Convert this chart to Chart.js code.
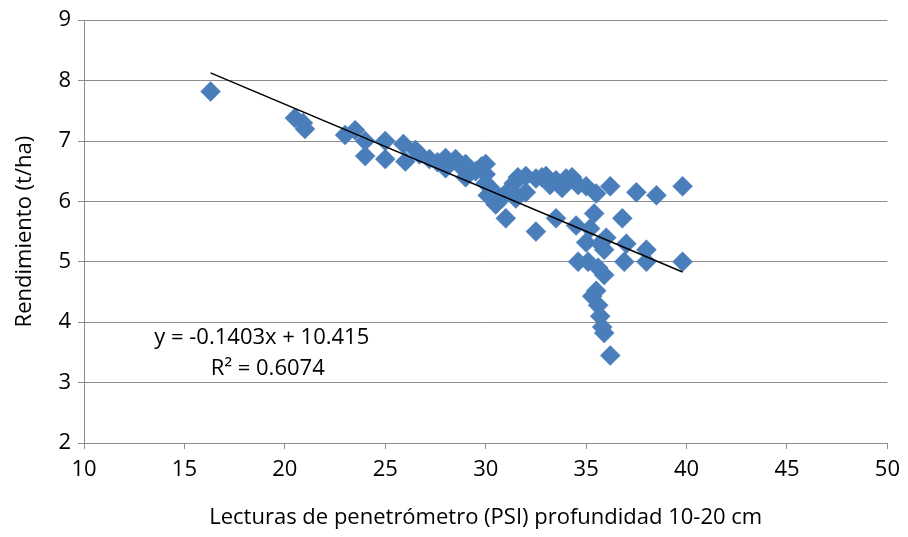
<!DOCTYPE html>
<html>
<head>
<meta charset="utf-8">
<script src="https://cdn.jsdelivr.net/npm/chart.js@4"></script>
<style>
  html, body { margin: 0; padding: 0; background: #fff; }
  #wrap { width: 908px; height: 537px; }
</style>
</head>
<body>
<div id="wrap"><canvas id="penChart"></canvas></div>
<script>
// penetrometer readings (PSI, 10-20 cm) vs yield (t/ha)
const lecturas = [
  16.3, 20.5, 20.9, 21.0, 23.0, 23.5, 24.0, 24.0, 25.0, 25.0,
  25.9, 26.0, 26.5, 26.7, 27.2, 27.6, 28.0, 28.0, 28.5, 28.7,
  29.0, 29.0, 29.5, 29.8, 30.0, 30.0, 30.0, 30.1, 30.3, 30.5,
  30.8, 31.0, 31.2, 31.4, 31.6, 31.5, 32.0, 32.0, 32.5, 32.5,
  32.8, 33.0, 33.2, 33.5, 33.5, 33.8, 34.0, 34.3, 34.6, 35.0,
  35.5, 36.2, 37.5, 38.5, 39.8, 35.4, 36.8, 34.5, 35.2, 36.0,
  35.9, 35.0, 35.7, 37.0, 38.0, 34.6, 35.1, 35.6, 35.9, 36.9,
  38.0, 39.8, 35.3, 35.5, 35.6, 35.7, 35.8, 35.9, 36.2
];
const rendimiento = [
  7.82, 7.38, 7.30, 7.20, 7.10, 7.18, 7.00, 6.75, 7.00, 6.70,
  6.95, 6.66, 6.85, 6.78, 6.70, 6.65, 6.72, 6.55, 6.70, 6.60,
  6.62, 6.40, 6.50, 6.58, 6.62, 6.45, 6.30, 6.10, 6.20, 5.95,
  6.05, 5.72, 6.20, 6.30, 6.40, 6.05, 6.15, 6.42, 6.38, 5.50,
  6.40, 6.42, 6.27, 6.35, 5.72, 6.22, 6.38, 6.40, 6.27, 6.25,
  6.13, 6.25, 6.15, 6.10, 6.25, 5.80, 5.72, 5.60, 5.55, 5.40,
  5.20, 5.32, 5.30, 5.30, 5.20, 5.00, 5.00, 4.90, 4.78, 5.00,
  5.00, 5.00, 4.43, 4.52, 4.28, 4.10, 3.92, 3.82, 3.45
];

// linear trend from the equation shown on the chart
const pendiente = -0.1403;
const intercepto = 10.415;
const r2 = 0.6074;

const xTicks = [10, 15, 20, 25, 30, 35, 40, 45, 50];
const yTicks = [2, 3, 4, 5, 6, 7, 8, 9];

const puntos = lecturas.map((x, i) => ({ x: x, y: rendimiento[i] }));
const xMin = Math.min(...lecturas), xMax = Math.max(...lecturas);
const tendencia = [xMin, xMax].map(x => ({ x: x, y: intercepto + pendiente * x }));

const FONT = "'Open Sans', Lato, sans-serif";
const FSIZE = 22;
const GRID = '#8c8c8c';

// equation + R² label
const ecuacionPlugin = {
  id: 'ecuacion',
  afterDatasetsDraw(chart) {
    const { ctx, scales } = chart;
    const cx = scales.x.getPixelForValue(18.85);
    ctx.save();
    ctx.fillStyle = '#000';
    ctx.font = FSIZE + 'px ' + FONT;
    ctx.textAlign = 'center';
    ctx.textBaseline = 'middle';
    ctx.fillText('y = ' + pendiente.toFixed(4) + 'x + ' + intercepto.toFixed(3), cx, scales.y.getPixelForValue(3.74));
    ctx.fillText('R² = ' + r2.toFixed(4), cx + 6, scales.y.getPixelForValue(3.23));
    ctx.restore();
  }
};

new Chart(document.getElementById('penChart'), {
  type: 'scatter',
  data: {
    datasets: [
      {
        type: 'line',
        data: tendencia,
        borderColor: '#000',
        borderWidth: 1.5,
        pointRadius: 0,
        fill: false
      },
      {
        data: puntos,
        pointStyle: 'rectRot',
        pointRadius: 10,
        pointBackgroundColor: '#4a7ebb',
        pointBorderColor: '#4a7ebb',
        pointBorderWidth: 0.5
      }
    ]
  },
  options: {
    responsive: true,
    maintainAspectRatio: false,
    animation: false,
    layout: { padding: { top: 19, right: 19, left: 0, bottom: 0 } },
    plugins: { legend: { display: false }, tooltip: { enabled: false } },
    scales: {
      x: {
        type: 'linear',
        min: 10, max: 50,
        afterBuildTicks: s => { s.ticks = xTicks.map(v => ({ value: v })); },
        afterFit: s => { s.height = 94; },
        grid: { drawOnChartArea: false, drawTicks: true, tickLength: 6, color: GRID },
        border: { color: GRID },
        ticks: { color: '#000', font: { family: FONT, size: FSIZE }, padding: 8, maxRotation: 0 },
        title: {
          display: true,
          text: 'Lecturas de penetrómetro (PSI) profundidad 10-20 cm',
          color: '#000',
          font: { family: FONT, size: FSIZE },
          padding: { top: 0, bottom: 6 }
        }
      },
      y: {
        min: 2, max: 9,
        afterBuildTicks: s => { s.ticks = yTicks.map(v => ({ value: v })); },
        afterFit: s => { s.width = 84; },
        grid: { color: GRID, drawTicks: true, tickLength: 6 },
        border: { color: GRID },
        ticks: { color: '#000', font: { family: FONT, size: FSIZE }, padding: 7 },
        title: {
          display: true,
          text: 'Rendimiento (t/ha)',
          color: '#000',
          font: { family: FONT, size: FSIZE },
          padding: { top: 12, bottom: 0 }
        }
      }
    }
  },
  plugins: [ecuacionPlugin]
});
</script>
</body>
</html>
